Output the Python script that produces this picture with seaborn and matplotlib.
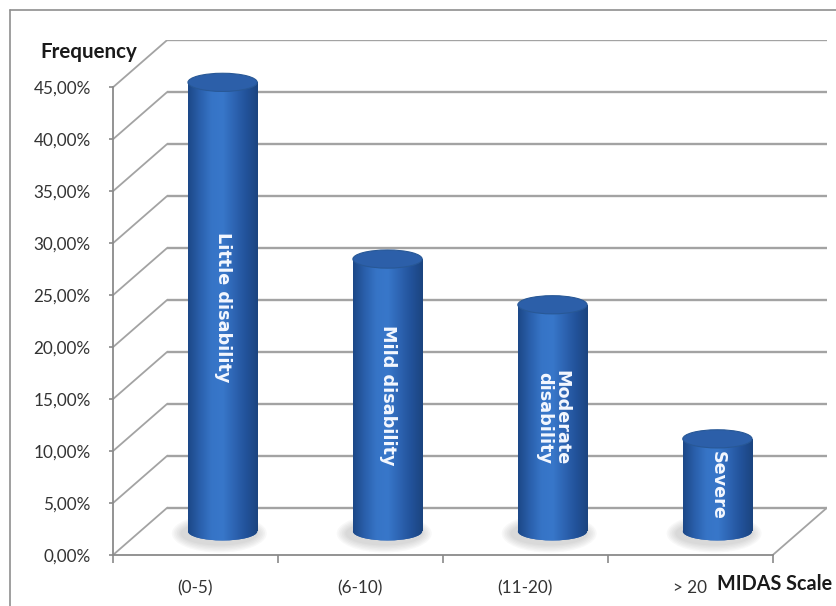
import numpy as np
import matplotlib
matplotlib.use("Agg")
import matplotlib.pyplot as plt
from matplotlib.patches import Ellipse
from matplotlib.colors import LinearSegmentedColormap
from matplotlib.transforms import Affine2D
from matplotlib.lines import Line2D
import seaborn as sns

# ---- data ----
categories = ["(0-5)", "(6-10)", "(11-20)", "> 20"]
values = [43.2, 26.2, 21.8, 8.9]
bar_labels = ["Little disability", "Mild disability", "Moderate\ndisability", "Severe"]
y_ticks = [0, 5, 10, 15, 20, 25, 30, 35, 40, 45]
y_tick_labels = ["0,00%", "5,00%", "10,00%", "15,00%", "20,00%", "25,00%",
                 "30,00%", "35,00%", "40,00%", "45,00%"]
y_title = "Frequency"
x_title = "MIDAS Scale"

# ---- style ----
sns.set_style("white")
plt.rcParams["font.family"] = ["Lato", "DejaVu Sans"]

W, H = 837, 606
fig = plt.figure(figsize=(W / 100, H / 100), dpi=100)

# depth offset of the back wall (data units)
DX = 54 / 164.25
DY = 47 / 10.333
ax = fig.add_axes([113 / W, 1 - 555 / H, (827 - 113) / W, (555 - 40) / H])

BAR_W = 0.42
sns.barplot(x=categories, y=values, ax=ax, width=BAR_W, color="#2c62ad",
            saturation=1, zorder=3, linewidth=0)
ax.set_xlim(-0.5, 3.5 + DX)
ax.set_ylim(0, 45 + DY)

grid_c = "#a3a3a3"
# back wall grid + left wall diagonals
for t in y_ticks:
    ax.plot([-0.5 + DX, 3.5 + DX], [t + DY, t + DY], color=grid_c, lw=1.7,
            zorder=1, solid_capstyle="butt")
    ax.plot([-0.5, -0.5 + DX], [t, t + DY], color=grid_c, lw=1.3, zorder=1)
# floor right edge
ax.plot([3.5, 3.5 + DX], [0, DY], color=grid_c, lw=1.3, zorder=1)

# cylinder colormap
cyl = LinearSegmentedColormap.from_list(
    "cyl", ["#1c4887", "#2a5fab", "#3674c6", "#3877ca", "#2d64b2", "#22529a", "#1b447f"])
grad = np.linspace(0, 1, 256).reshape(1, -1)
EH = 1.75
shift = Affine2D().translate(DX / 2, DY / 2)

bars = list(ax.patches)[:len(values)]
for bar, val, lab in zip(bars, values, bar_labels):
    x0 = bar.get_x()
    w = bar.get_width()
    h = bar.get_height()
    cx = x0 + w / 2 + DX / 2
    base = DY / 2
    bar.set_transform(shift + ax.transData)
    # soft shadow
    for k, s in enumerate(np.linspace(1.0, 0.3, 6)):
        sh = Ellipse((cx - 0.02, base - 0.2), w * (1.02 + 0.35 * s), EH * (1.0 + 1.1 * s),
                     facecolor="#6a6a6a", edgecolor="none", alpha=0.045, zorder=2.5)
        ax.add_patch(sh)
    # bottom half ellipse
    be = Ellipse((cx, base), w, EH, facecolor="#2c62ad", edgecolor="none", zorder=3)
    ax.add_patch(be)
    im1 = ax.imshow(grad, extent=(cx - w / 2, cx + w / 2, base, base + h),
                    aspect="auto", cmap=cyl, zorder=3.1, interpolation="bilinear")
    im1.set_clip_path(bar)
    im2 = ax.imshow(grad, extent=(cx - w / 2, cx + w / 2, base - EH, base + EH),
                    aspect="auto", cmap=cyl, zorder=3.1, interpolation="bilinear")
    im2.set_clip_path(be)
    # top ellipse
    te = Ellipse((cx, base + h), w, EH, facecolor="#2c5fa9", edgecolor="#285896",
                 lw=0.8, zorder=3.3)
    ax.add_patch(te)
    # label
    ax.text(cx, base + h / 2, lab, rotation=-90, ha="center", va="center",
            color="#f4f8ff", fontweight="bold", fontsize=12.7, zorder=4,
            linespacing=0.95, multialignment="center",
            family=["DejaVu Sans"])

ax.set_xlim(-0.5, 3.5 + DX)
ax.set_ylim(0, 45 + DY)

# axes styling
for s in ["top", "right"]:
    ax.spines[s].set_visible(False)
for s in ["left", "bottom"]:
    ax.spines[s].set_color("#8a8a8a")
    ax.spines[s].set_linewidth(1.3)
    ax.spines[s].set_zorder(1.5)
ax.spines["left"].set_bounds(0, 45)
ax.spines["bottom"].set_bounds(-0.5, 3.5)

ax.set_yticks(y_ticks, y_tick_labels)
ax.tick_params(axis="y", length=3, width=1.2, color="#8a8a8a", pad=13,
               labelsize=12.3, labelcolor="#333333", left=True)
ax.set_xticks(range(len(categories)), categories)
ax.tick_params(axis="x", which="major", length=0, pad=18, labelsize=12.3,
               labelcolor="#333333", bottom=True)
ax.set_xticks([-0.5, 0.5, 1.5, 2.5, 3.5], minor=True)
ax.tick_params(axis="x", which="minor", length=6, width=1.2, color="#8a8a8a",
               bottom=True, direction="out")
ax.set_xlabel("")
ax.set_ylabel("")
ax.grid(False)
ax.patch.set_alpha(0)

fig.text(40 / W, 1 - 52 / H, y_title, fontweight="bold", fontsize=14.8,
         va="center", ha="left", color="#1a1a1a")
fig.text(717 / W, 1 - 584 / H, x_title, fontweight="bold", fontsize=14.2,
         va="center", ha="left", color="#1a1a1a")

# outer frame
fig.add_artist(Line2D([9.5 / W, 9.5 / W], [0, 1 - 10 / H], transform=fig.transFigure,
                      color="#8f8f8f", lw=1.2))
fig.add_artist(Line2D([9.5 / W, 1], [1 - 10 / H, 1 - 10 / H], transform=fig.transFigure,
                      color="#8f8f8f", lw=1.2))

fig.savefig("out.png", dpi=100, facecolor="white")
